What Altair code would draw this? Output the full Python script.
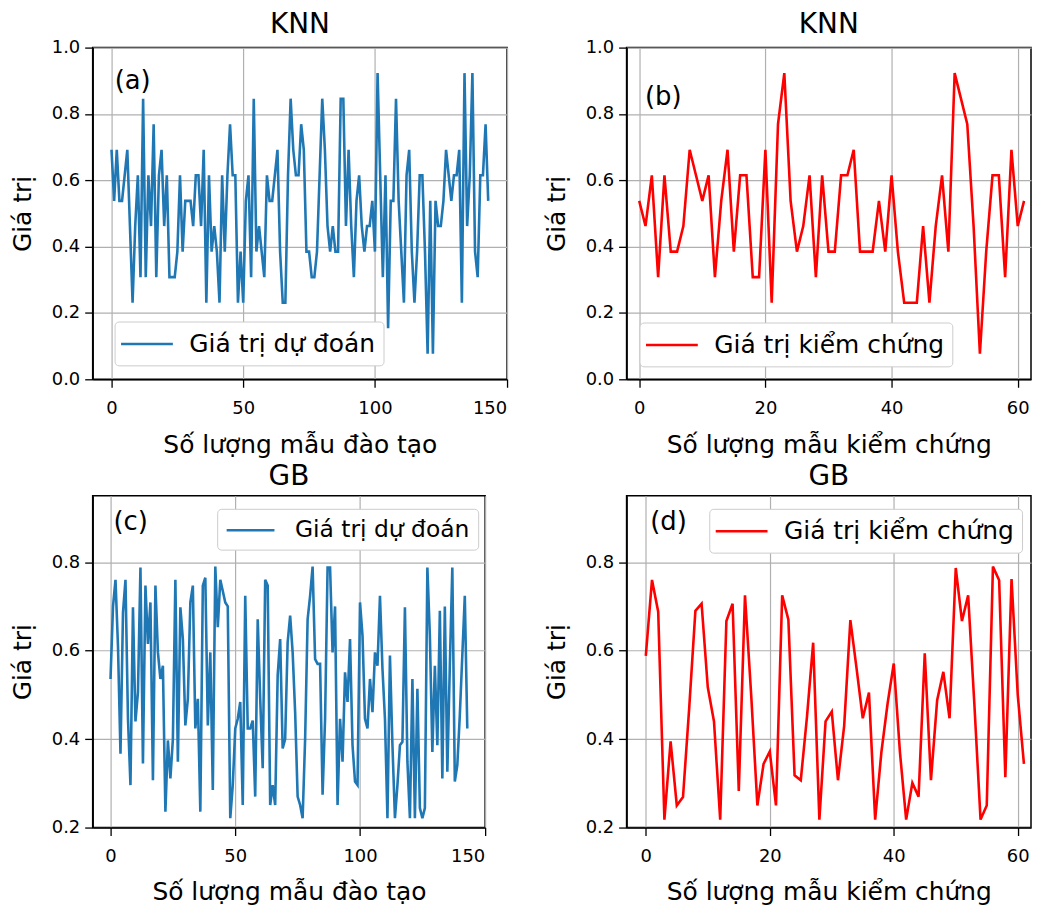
import altair as alt
import pandas as pd

BLUE = "#1f77b4"
RED = "#ff0000"
FONT = "DejaVu Sans"

# ---- data ----
knn_train = [
    0.692, 0.538, 0.692, 0.538, 0.538, 0.615, 0.692, 0.462, 0.231, 0.462,
    0.615, 0.308, 0.846, 0.308, 0.615, 0.462, 0.769, 0.308, 0.615, 0.692,
    0.462, 0.615, 0.308, 0.308, 0.308, 0.385, 0.615, 0.385, 0.538, 0.538,
    0.538, 0.462, 0.615, 0.615, 0.462, 0.692, 0.231, 0.615, 0.385, 0.462,
    0.385, 0.231, 0.615, 0.385, 0.615, 0.769, 0.615, 0.615, 0.231, 0.385,
    0.231, 0.538, 0.615, 0.308, 0.846, 0.385, 0.462, 0.385, 0.308, 0.615,
    0.538, 0.538, 0.615, 0.692, 0.385, 0.231, 0.231, 0.615, 0.846, 0.692,
    0.615, 0.615, 0.769, 0.692, 0.385, 0.385, 0.308, 0.308, 0.385, 0.615,
    0.846, 0.692, 0.462, 0.385, 0.462, 0.385, 0.385, 0.846, 0.846, 0.462,
    0.692, 0.462, 0.308, 0.538, 0.615, 0.462, 0.385, 0.462, 0.462, 0.538,
    0.385, 0.923, 0.615, 0.308, 0.615, 0.154, 0.538, 0.538, 0.846, 0.538,
    0.385, 0.231, 0.615, 0.692, 0.385, 0.231, 0.385, 0.615, 0.615, 0.385,
    0.077, 0.538, 0.077, 0.538, 0.462, 0.462, 0.538, 0.692, 0.615, 0.538,
    0.615, 0.615, 0.692, 0.231, 0.923, 0.462, 0.615, 0.923, 0.385, 0.308,
    0.615, 0.615, 0.769, 0.538,
]
knn_test = [
    0.538, 0.462, 0.615, 0.308, 0.615, 0.385, 0.385, 0.462, 0.692, 0.615,
    0.538, 0.615, 0.308, 0.538, 0.692, 0.385, 0.615, 0.615, 0.308, 0.308,
    0.692, 0.231, 0.769, 0.923, 0.538, 0.385, 0.462, 0.615, 0.308, 0.615,
    0.385, 0.385, 0.615, 0.615, 0.692, 0.385, 0.385, 0.385, 0.538, 0.385,
    0.615, 0.385, 0.231, 0.231, 0.231, 0.462, 0.231, 0.462, 0.615, 0.385,
    0.923, 0.846, 0.769, 0.462, 0.077, 0.385, 0.615, 0.615, 0.308, 0.692,
    0.462, 0.538,
]
gb_train = [
    0.536, 0.700, 0.760, 0.610, 0.367, 0.686, 0.760, 0.446, 0.296, 0.698,
    0.440, 0.506, 0.788, 0.345, 0.747, 0.615, 0.709, 0.307, 0.747, 0.596,
    0.536, 0.566, 0.236, 0.397, 0.311, 0.400, 0.760, 0.349, 0.698, 0.626,
    0.431, 0.491, 0.709, 0.747, 0.424, 0.491, 0.236, 0.747, 0.765, 0.431,
    0.596, 0.285, 0.790, 0.653, 0.760, 0.735, 0.709, 0.700, 0.221, 0.296,
    0.424, 0.446, 0.484, 0.251, 0.724, 0.424, 0.424, 0.442, 0.270, 0.671,
    0.491, 0.334, 0.760, 0.747, 0.251, 0.296, 0.251, 0.544, 0.626, 0.379,
    0.400, 0.619, 0.679, 0.596, 0.461, 0.270, 0.251, 0.221, 0.400, 0.671,
    0.724, 0.790, 0.581, 0.570, 0.570, 0.274, 0.446, 0.788, 0.788, 0.596,
    0.700, 0.251, 0.446, 0.349, 0.551, 0.484, 0.626, 0.386, 0.304, 0.296,
    0.709, 0.634, 0.446, 0.424, 0.536, 0.461, 0.596, 0.566, 0.724, 0.559,
    0.446, 0.221, 0.589, 0.386, 0.221, 0.296, 0.386, 0.394, 0.698, 0.349,
    0.221, 0.536, 0.221, 0.514, 0.244, 0.221, 0.244, 0.788, 0.634, 0.371,
    0.566, 0.386, 0.690, 0.311, 0.700, 0.326, 0.566, 0.788, 0.304, 0.341,
    0.454, 0.589, 0.724, 0.424,
]
gb_test = [
    0.588, 0.760, 0.688, 0.218, 0.395, 0.250, 0.269, 0.470, 0.690, 0.706,
    0.517, 0.440, 0.218, 0.667, 0.706, 0.283, 0.725, 0.500, 0.250, 0.344,
    0.372, 0.250, 0.725, 0.670, 0.318, 0.307, 0.450, 0.618, 0.218, 0.440,
    0.462, 0.307, 0.430, 0.669, 0.560, 0.447, 0.505, 0.218, 0.370, 0.480,
    0.571, 0.370, 0.218, 0.301, 0.270, 0.594, 0.307, 0.488, 0.552, 0.447,
    0.787, 0.667, 0.725, 0.480, 0.218, 0.250, 0.790, 0.759, 0.314, 0.762,
    0.500, 0.344,
]

series_pred = "Giá trị dự đoán"
series_test = "Giá trị kiểm chứng"
y_title = "Giá trị"
x_title_train = "Số lượng mẫu đào tạo"
x_title_test = "Số lượng mẫu kiểm chứng"


def panel(values, color, series, title, x_title, x_domain, x_ticks,
          y_domain, y_ticks, width, height, tag, tag_xy, legend_xy,
          legend_style, title_offset, x_title_pad):
    lab_size, sym_size, sym_off, lab_off = legend_style
    df = pd.DataFrame({"x": list(range(len(values))), "y": values,
                       "series": [series] * len(values)})
    line = alt.Chart(df).mark_line(strokeWidth=2.6, clip=True).encode(
        x=alt.X("x:Q",
                scale=alt.Scale(domain=x_domain, nice=False, zero=False),
                axis=alt.Axis(values=x_ticks, format="d", title=x_title,
                              labelPadding=12, titlePadding=x_title_pad)),
        y=alt.Y("y:Q",
                scale=alt.Scale(domain=y_domain, nice=False, zero=False),
                axis=alt.Axis(values=y_ticks, format=".1f", title=y_title,
                              labelPadding=5, titlePadding=16)),
        color=alt.Color(
            "series:N",
            scale=alt.Scale(domain=[series], range=[color]),
            legend=alt.Legend(
                title=None, orient="none",
                legendX=legend_xy[0], legendY=legend_xy[1],
                symbolType="M-2,0L2,0", symbolSize=sym_size,
                symbolStrokeWidth=2.6, symbolOffset=sym_off,
                labelOffset=lab_off, labelFontSize=lab_size, labelFont=FONT,
                labelColor="black", labelLimit=500,
                padding=8, fillColor="white", strokeColor="#cccccc",
                cornerRadius=4,
            ),
        ),
    )
    tag_df = pd.DataFrame({"x": [tag_xy[0]], "y": [tag_xy[1]], "t": [tag]})
    text = alt.Chart(tag_df).mark_text(
        align="left", baseline="middle", fontSize=26, font=FONT, color="black"
    ).encode(x="x:Q", y="y:Q", text="t:N")
    return alt.layer(line, text).properties(
        width=width, height=height,
        title=alt.TitleParams(title, fontSize=28, fontWeight="normal",
                              font=FONT, anchor="middle", frame="group",
                              color="black", offset=title_offset),
    )


LEG_BIG = (25, 676, 10, 28)
LEG_SMALL = (23.5, 576, 12, 31)

pa = panel(knn_train, BLUE, series_pred, "KNN", x_title_train,
           [-7.15, 150.15], [0, 50, 100, 150], [0, 1],
           [0.0, 0.2, 0.4, 0.6, 0.8, 1.0], 416, 333, "(a)", (1.2, 0.90),
           (22, 275), LEG_BIG, 0, 15)
pb = panel(knn_test, RED, series_test, "KNN", x_title_test,
           [-2.0, 62.1], [0, 20, 40, 60], [0, 1],
           [0.0, 0.2, 0.4, 0.6, 0.8, 1.0], 406, 333, "(b)", (0.9, 0.85),
           (13, 276), LEG_BIG, 0, 15)
pc = panel(gb_train, BLUE, series_pred, "GB", x_title_train,
           [-7.15, 150.15], [0, 50, 100, 150], [0.2, 0.95],
           [0.2, 0.4, 0.6, 0.8], 394, 333, "(c)", (1.2, 0.89),
           (125, 13), LEG_SMALL, 5, 14)
pd_ = panel(gb_test, RED, series_test, "GB", x_title_test,
            [-3.1, 62.14], [0, 20, 40, 60], [0.2, 0.95],
            [0.2, 0.4, 0.6, 0.8], 406, 333, "(d)", (0.7, 0.89),
            (83, 13), LEG_BIG, 5, 14)

row1 = alt.hconcat(pa, pb, spacing=120, bounds="flush").resolve_scale(
    x="independent", y="independent", color="independent")
row2 = alt.hconcat(pc, pd_, spacing=142, bounds="flush").resolve_scale(
    x="independent", y="independent", color="independent")

chart = alt.vconcat(row1, row2, spacing=4).resolve_scale(
    x="independent", y="independent", color="independent"
).properties(
    padding={"left": 1, "top": 0, "right": 0, "bottom": 0},
    background="white",
).configure_axis(
    labelFont=FONT, labelFontSize=18, labelColor="black",
    titleFont=FONT, titleFontSize=25, titleFontWeight="normal",
    titleColor="black", domainColor="black", domainWidth=1.5,
    tickColor="black", tickSize=8, tickWidth=1.3,
    gridColor="#b0b0b0", gridWidth=1.2, gridOpacity=1,
).configure_view(
    stroke="black", strokeWidth=1.5
)

chart.save("out.html", embed_options={"renderer": "svg", "actions": False})
